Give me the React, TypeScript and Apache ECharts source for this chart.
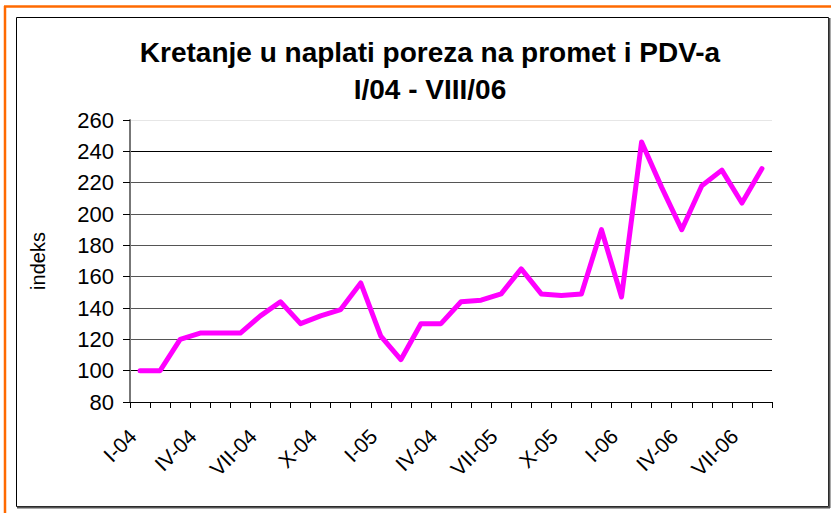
import React, { useEffect, useRef } from "react";
import * as echarts from "echarts";

const categories = [
  "I-04", "II-04", "III-04", "IV-04", "V-04", "VI-04", "VII-04", "VIII-04", "IX-04", "X-04", "XI-04", "XII-04",
  "I-05", "II-05", "III-05", "IV-04", "V-05", "VI-05", "VII-05", "VIII-05", "IX-05", "X-05", "XI-05", "XII-05",
  "I-06", "II-06", "III-06", "IV-06", "V-06", "VI-06", "VII-06", "VIII-06",
];

const indeksValues = [
  100, 100, 120, 124, 124, 124, 135, 144, 130, 135, 139, 156,
  122, 107, 130, 130, 144, 145, 149, 165, 149, 148, 149, 190,
  147, 246, 217, 190, 218, 228, 207, 229,
];

const titleText = "Kretanje u naplati poreza na promet i PDV-a\nI/04 - VIII/06";
const yAxisName = "indeks";

const FONT = "'Liberation Sans', Arial, sans-serif";

export default function App() {
  const ref = useRef<HTMLDivElement>(null);

  useEffect(() => {
    if (!ref.current) return;
    const chart = echarts.init(ref.current, undefined, { renderer: "svg" });
    chart.setOption({
      animation: false,
      backgroundColor: "#ffffff",
      title: {
        text: titleText,
        left: 425,
        textAlign: "center",
        top: 29,
        textStyle: {
          fontFamily: FONT,
          fontSize: 28,
          fontWeight: "bold",
          color: "#000",
          lineHeight: 37,
        },
      },
      grid: { left: 130, top: 120, width: 642, height: 282, containLabel: false },
      xAxis: {
        type: "category",
        data: categories,
        boundaryGap: true,
        axisLine: { show: true, lineStyle: { color: "#000", width: 1 } },
        axisTick: { show: true, interval: 0, length: 6, lineStyle: { color: "#000" } },
        axisLabel: {
          interval: 2,
          rotate: 45,
          margin: 38,
          verticalAlign: "bottom",
          fontFamily: FONT,
          fontSize: 21,
          color: "#000",
        },
        splitLine: { show: false },
      },
      yAxis: {
        type: "value",
        min: 80,
        max: 260,
        interval: 20,
        name: yAxisName,
        nameLocation: "middle",
        nameRotate: 90,
        nameGap: 82,
        nameTextStyle: { fontFamily: FONT, fontSize: 20, color: "#000" },
        axisLine: { show: true, lineStyle: { color: "#777", width: 2 } },
        axisTick: { show: true, length: 7, lineStyle: { color: "#000" } },
        axisLabel: { margin: 16, fontFamily: FONT, fontSize: 22, color: "#000" },
        splitLine: {
          show: true,
          lineStyle: {
            color: ["#000", "#000", "#555", "#555", "#555", "#555", "#555", "#555", "#000", "#e6e6e6"],
            width: 1,
          },
        },
      },
      series: [
        {
          type: "line",
          data: indeksValues,
          symbol: "none",
          lineStyle: { color: "#ff00ff", width: 5, join: "round", cap: "round" },
          z: 5,
        },
      ],
      graphic: [
        { type: "line", shape: { x1: 4, y1: 6.5, x2: 831, y2: 6.5 }, style: { stroke: "#ff6a00", lineWidth: 2.5 } },
        { type: "line", shape: { x1: 5, y1: 6, x2: 5, y2: 513 }, style: { stroke: "#ff6a00", lineWidth: 2.5 } },
        { type: "rect", shape: { x: 16.5, y: 17.5, width: 812, height: 489 }, style: { fill: "none", stroke: "#000", lineWidth: 1 } },
        { type: "line", shape: { x1: 829.5, y1: 18, x2: 829.5, y2: 508 }, style: { stroke: "#555", lineWidth: 2 } },
        { type: "line", shape: { x1: 17, y1: 507.5, x2: 830, y2: 507.5 }, style: { stroke: "#555", lineWidth: 2 } },
      ],
    });
    return () => chart.dispose();
  }, []);

  return (
    <div
      ref={ref}
      style={{ position: "absolute", left: 0, top: 0, width: 831, height: 513, background: "#fff" }}
    />
  );
}
